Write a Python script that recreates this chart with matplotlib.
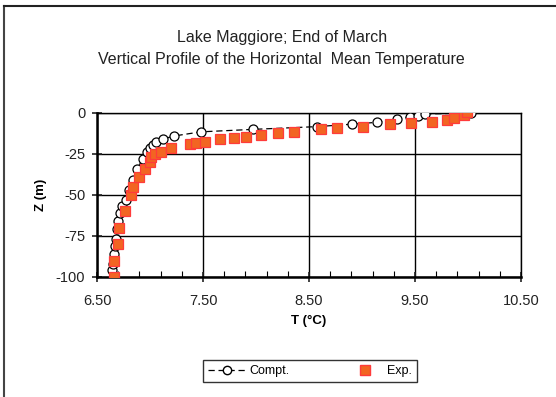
import matplotlib.pyplot as plt
from matplotlib.lines import Line2D
from matplotlib.ticker import MultipleLocator, FormatStrFormatter

plt.rcParams['font.family'] = ['Liberation Sans', 'DejaVu Sans']
plt.rcParams['axes.unicode_minus'] = False

# computed profile (T in degC, depth z in m)
compt_T = [6.64, 6.65, 6.66, 6.67, 6.68, 6.69, 6.70, 6.72, 6.74, 6.77,
           6.80, 6.84, 6.88, 6.93, 6.97, 7.00, 7.03, 7.06, 7.12, 7.23,
           7.48, 7.97, 8.58, 8.91, 9.14, 9.33, 9.45, 9.53, 9.59, 10.03]
compt_z = [-96, -92, -86, -81, -77, -71, -66, -61, -57, -53,
           -47, -41, -34, -28, -24, -21.5, -19.5, -17.5, -15.9, -14,
           -11.5, -10, -8.3, -6.8, -5.7, -3.9, -2.3, -1.6, -0.6, 0]

# measured profile
exp_T = [6.66, 6.66, 6.70, 6.71, 6.76, 6.82, 6.84, 6.90, 6.95, 7.00, 7.01,
         7.05, 7.10, 7.20, 7.38, 7.43, 7.52, 7.66, 7.79, 7.91, 8.05, 8.21,
         8.36, 8.61, 8.76, 9.01, 9.26, 9.46, 9.66, 9.80, 9.87, 9.96, 9.99]
exp_z = [-100, -90, -80, -70, -60, -50, -45, -39, -34, -30, -27,
         -25, -23.5, -21.5, -19, -18.5, -17.5, -16, -15.5, -14.5, -13.5, -12.5,
         -11.5, -10, -9.3, -8.3, -6.9, -5.9, -5.3, -4.3, -3.3, -1.2, 0.5]

fig = plt.figure(figsize=(5.56, 3.97), dpi=100)
ax = fig.add_axes([0.1745, 0.3023, 0.7625, 0.4131])

ax.plot(compt_T, compt_z, color='black', ls=(0, (5, 3)), lw=0.9,
        marker='o', ms=6.5, mfc='white', mec='black', mew=0.9, zorder=3)
ax.plot(exp_T, exp_z, ls='none', marker='s', ms=6.8,
        mfc='#F26522', mec='#FF3B3B', mew=0.9, zorder=4)

ax.set_xlim(6.5, 10.5)
ax.set_ylim(-100, 0)
ax.xaxis.set_major_locator(MultipleLocator(1.0, offset=0.5))
ax.xaxis.set_minor_locator(MultipleLocator(0.2, offset=0.1))
ax.xaxis.set_major_formatter(FormatStrFormatter('%.2f'))
ax.yaxis.set_major_locator(MultipleLocator(25))
ax.grid(True, which='major', color='black', lw=1.0)
ax.set_axisbelow(True)

ax.tick_params(axis='both', which='major', direction='inout', length=7,
               width=1.2, labelsize=10.5, colors='#222222', pad=5)
ax.tick_params(axis='x', which='major', pad=9)
ax.tick_params(axis='x', which='minor', direction='in', length=4, width=0.8)
ax.tick_params(axis='y', which='minor', left=False)

for s in ['left', 'bottom']:
    ax.spines[s].set_linewidth(1.8)
for s in ['top', 'right']:
    ax.spines[s].set_linewidth(1.0)

ax.set_xlabel('T (°C)', fontsize=9.5, fontweight='bold', labelpad=5)
ax.set_ylabel('Z (m)', fontsize=9.5, fontweight='bold', labelpad=6)

fig.text(0.507, 0.905, 'Lake Maggiore; End of March', ha='center', va='center', fontsize=11.5, color='#222222')
fig.text(0.506, 0.85, 'Vertical Profile of the Horizontal  Mean Temperature', ha='center', va='center',
         fontsize=11.5, color='#222222')

handles = [
    Line2D([], [], color='black', ls=(0, (5, 3)), lw=0.9, marker='o', ms=6,
           mfc='white', mec='black'),
    Line2D([], [], ls='none', marker='s', ms=6.5, mfc='#F26522', mec='#FF3B3B'),
]
leg = fig.legend(handles, ['Compt.', 'Exp.'], loc='center', bbox_to_anchor=(0.558, 0.0655),
                 ncol=2, fontsize=9, frameon=True, fancybox=False, edgecolor='black',
                 columnspacing=4.5, handlelength=3, handletextpad=0.3, borderpad=0.4,
                 borderaxespad=0)
leg.get_frame().set_linewidth(1.0)

# chart border (left and top edges visible)
fig.add_artist(Line2D([0.008, 0.008], [0.0, 0.985], color='#444444', lw=1.5, transform=fig.transFigure))
fig.add_artist(Line2D([0.008, 1.0], [0.985, 0.985], color='#222222', lw=1.5, transform=fig.transFigure))

fig.savefig('out.png', dpi=100)
